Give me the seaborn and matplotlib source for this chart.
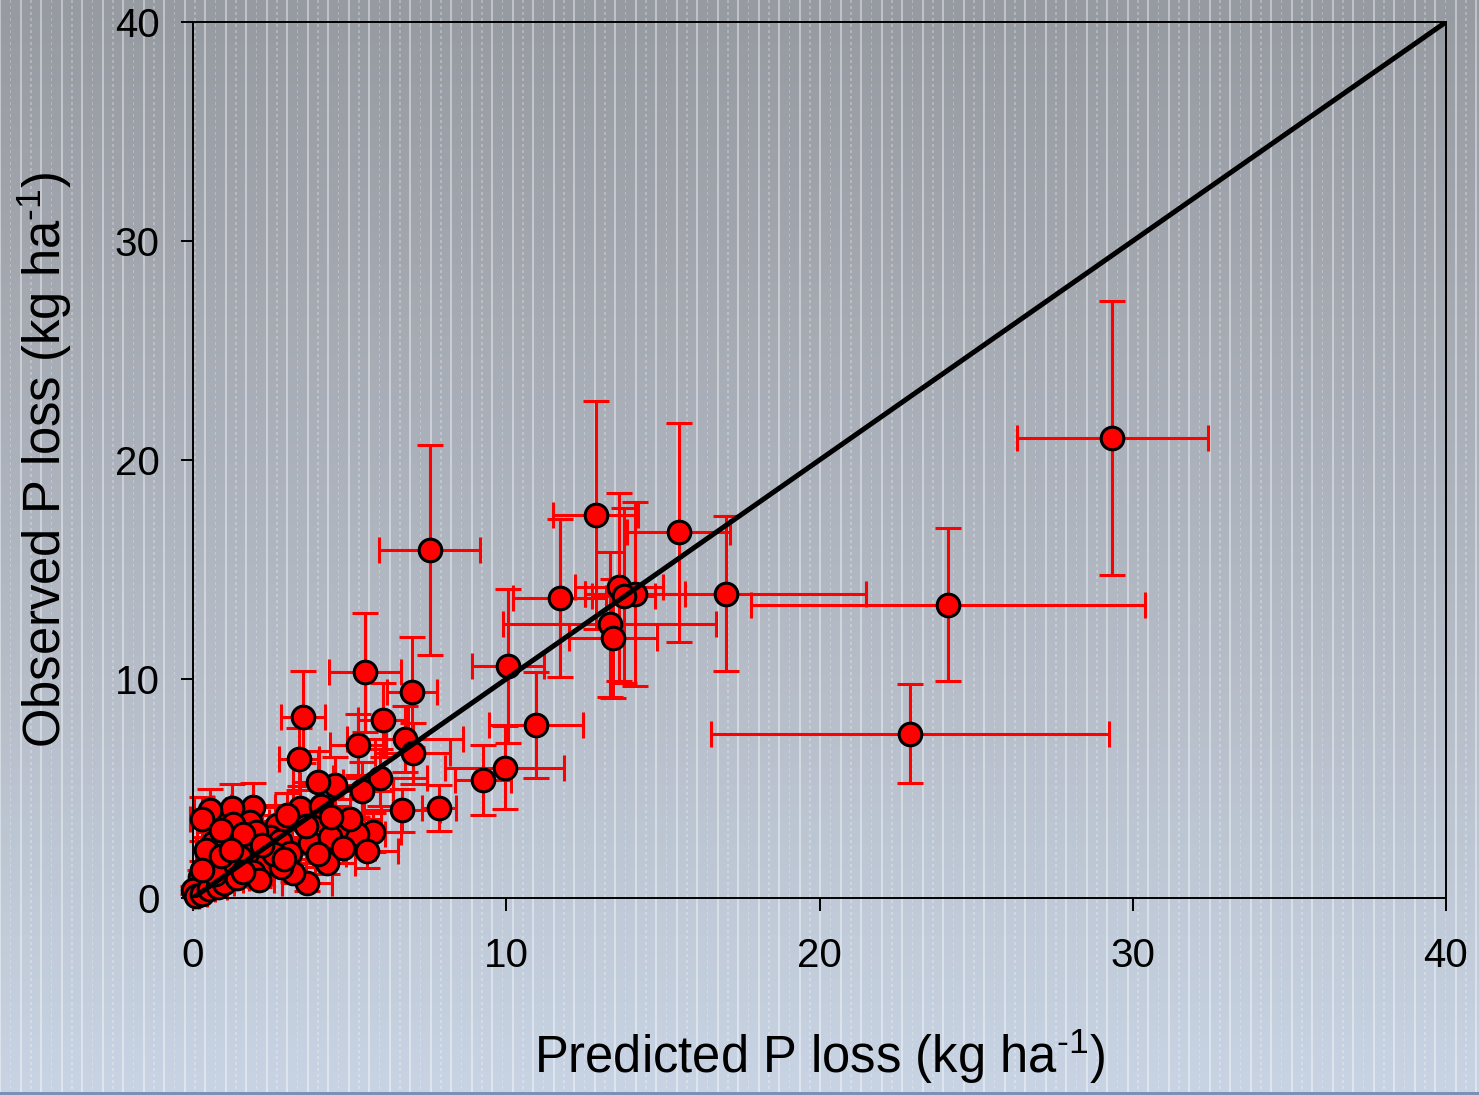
import numpy as np
import pandas as pd
import matplotlib
matplotlib.use("Agg")
import matplotlib.pyplot as plt
import seaborn as sns

# ---- data ----
pred = [29.35, 24.1, 22.9, 17.0, 15.5, 12.85, 13.6, 14.1, 13.75, 13.3, 13.4, 11.7,
        10.05, 10.95, 9.95, 9.25, 7.55, 7.85, 6.99, 6.77, 7.02, 6.07, 5.49, 5.27,
        5.97, 5.4, 4.53, 3.99, 3.51, 3.38, 6.67, 5.75, 5.23, 5.55, 4.6, 3.42,
        1.92, 1.25, 0.54, 0.29, 2.68, 1.82, 1.28, 0.64, 1.08, 1.72, 2.46, 2.78,
        3.1, 3.74, 4.37, 4.28, 3.65, 3.2, 2.36, 1.5, 1.18, 0.54, 0.22, 0.0,
        0.1, 0.3, 0.5, 0.8, 1.0, 1.4, 1.9, 2.1, 2.8, 2.0, 2.6, 3.6, 4.0, 4.8,
        0.9, 1.6, 0.4, 0.7, 5.0, 3.0, 4.1, 4.4,
        0.3, 0.9, 1.6, 2.2, 2.9, 1.2]
obs = [21.0, 13.4, 7.5, 13.9, 16.7, 17.5, 14.2, 13.9, 13.8, 12.5, 11.85, 13.7,
       10.6, 7.9, 5.95, 5.4, 15.9, 4.1, 9.4, 7.26, 6.6, 8.13, 10.3, 7.0,
       5.5, 4.9, 5.15, 5.3, 8.27, 6.35, 4.0, 3.0, 2.9, 2.15, 3.2, 4.1,
       4.16, 4.1, 4.0, 3.6, 3.35, 3.45, 3.4, 2.5, 2.65, 2.33, 2.8, 2.6,
       2.05, 2.5, 2.8, 1.6, 0.7, 1.14, 1.6, 1.87, 1.4, 1.6, 0.96, 0.37,
       0.1, 0.2, 0.4, 0.5, 0.7, 0.9, 1.2, 0.8, 1.4, 3.0, 2.0, 3.3, 2.0, 2.3,
       3.1, 2.9, 2.2, 1.1, 3.6, 3.8, 4.2, 3.7,
       1.3, 1.9, 1.2, 2.4, 1.8, 2.2]
pred_err = [3.05, 6.3, 6.35, 4.5, 1.65, 1.35, 1.4, 1.6, 1.0, 3.4, 1.4, 1.5,
            1.15, 1.5, 1.9, 0.9, 1.6, 0.55, 0.8, 1.85, 1.2, 0.8, 1.15, 0.9,
            1.5, 1.0, 1.1, 0.8, 0.7, 0.63, 1.2, 0.9, 0.9, 1.0, 1.0, 0.8,
            0.7, 0.6, 0.5, 0.4, 0.7, 0.6, 0.6, 0.5, 0.5, 0.6, 0.7, 0.7,
            0.8, 0.9, 1.0, 0.9, 0.8, 0.7, 0.6, 0.5, 0.4, 0.3, 0.2, 0.1,
            0.1, 0.15, 0.2, 0.3, 0.3, 0.4, 0.5, 0.5, 0.6, 0.6, 0.6, 0.9, 0.9, 1.0,
            0.5, 0.6, 0.3, 0.3, 1.0, 0.8, 0.9, 1.0,
            0.2, 0.4, 0.5, 0.6, 0.7, 0.4]
obs_err = [6.25, 3.5, 2.25, 3.55, 5.0, 5.2, 4.3, 4.2, 4.0, 3.3, 2.7, 3.6,
           3.5, 2.4, 1.9, 1.6, 4.8, 1.05, 2.5, 1.5, 1.4, 1.7, 2.7, 1.4,
           1.3, 1.3, 1.3, 1.4, 2.1, 1.4, 1.0, 0.9, 0.8, 0.8, 0.9, 1.0,
           1.1, 1.1, 1.0, 1.0, 0.9, 0.8, 0.8, 0.6, 0.7, 0.6, 0.7, 0.7,
           0.6, 0.7, 0.8, 0.5, 0.4, 0.4, 0.5, 0.5, 0.4, 0.4, 0.3, 0.2,
           0.1, 0.1, 0.15, 0.2, 0.2, 0.3, 0.4, 0.3, 0.4, 0.8, 0.6, 0.9, 0.6, 0.7,
           0.8, 0.7, 0.6, 0.3, 0.9, 1.0, 1.0, 0.9,
           0.4, 0.5, 0.4, 0.6, 0.5, 0.6]
one_to_one = [0, 40]
ticks = [0, 10, 20, 30, 40]

df = pd.DataFrame({"pred": pred, "obs": obs, "pred_err": pred_err, "obs_err": obs_err})

sns.set_theme(style="white")
plt.rcParams['font.family'] = ['Liberation Sans', 'DejaVu Sans']
plt.rcParams['mathtext.fontset'] = 'custom'
plt.rcParams['mathtext.rm'] = 'Liberation Sans'
plt.rcParams['mathtext.default'] = 'regular'

W, H = 1479, 1095
fig = plt.figure(figsize=(W / 100, H / 100), dpi=100)

# ---- background: gray-to-blue gradient with vertical light stripes ----
top = np.array([150, 154, 161]) / 255.0
mid = np.array([176, 182, 192]) / 255.0
bot = np.array([200, 212, 228]) / 255.0
tt = np.linspace(0, 1, H)
col = np.zeros((H, 3))
for c in range(3):
    col[:, c] = np.interp(tt, [0, 0.5, 1], [top[c], mid[c], bot[c]])
img = np.repeat(col[:, None, :], W, axis=1)
xs = np.arange(W)
stripe_idx = np.floor((xs + 1) / 10.25).astype(int)
is_stripe = ((xs + 1) % 10.25) < 1.6
solid = (stripe_idx % 2 == 0)
ys = np.arange(H)[:, None]
mask_solid = np.broadcast_to((is_stripe & solid)[None, :], (H, W))
mask_dash = np.broadcast_to((is_stripe & ~solid)[None, :], (H, W)) & ((ys // 3) % 2 == 0)
img[mask_solid] = img[mask_solid] * 0.6 + 0.4
img[mask_dash] = img[mask_dash] * 0.75 + 0.25
img[-3:, :, :] = np.array([120, 145, 180]) / 255.0

bg = fig.add_axes([0, 0, 1, 1], zorder=-1)
bg.imshow(np.clip(img, 0, 1), aspect='auto', interpolation='nearest')
bg.axis('off')

ax = fig.add_axes([193 / W, 1 - 898 / H, 1253 / W, 876 / H], zorder=1)
ax.set_facecolor('none')
ax.patch.set_alpha(0)

ax.errorbar(df["pred"], df["obs"], xerr=df["pred_err"], yerr=df["obs_err"],
            fmt='none', ecolor='#ff0000', elinewidth=2.2, capsize=9.5,
            capthick=2.2, zorder=2, clip_on=False)
sns.scatterplot(data=df, x="pred", y="obs", s=265, color='#ff0000',
                edgecolor='black', linewidth=2.2, zorder=3, ax=ax,
                clip_on=False, legend=False)
ax.plot(one_to_one, one_to_one, color='black', lw=3.6, zorder=4, solid_capstyle='butt')

ax.set_xlim(0, 40)
ax.set_ylim(0, 40)
ax.set_xticks(ticks)
ax.set_yticks(ticks)
for s in ax.spines.values():
    s.set_visible(True)
    s.set_color('black')
    s.set_linewidth(1.4)
ax.tick_params(axis='both', direction='out', length=9, width=1.4, colors='black',
               labelsize=29, labelcolor='black')
ax.tick_params(axis='x', pad=19, bottom=True)
ax.tick_params(axis='y', pad=15, left=True)
ax.set_xlabel('Predicted P loss (kg ha$^{\u2010' + '1}$)', fontsize=36.5, color='black', labelpad=37)
ax.set_ylabel('Observed P loss (kg ha$^{\u2010' + '1}$)', fontsize=36.5, color='black', labelpad=29)

fig.savefig("out.png", dpi=100)
